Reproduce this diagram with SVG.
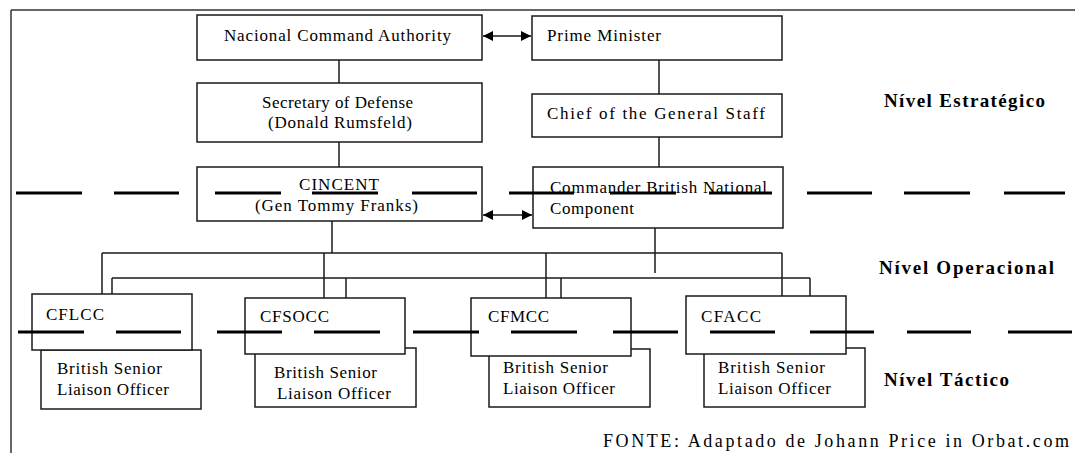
<svg xmlns="http://www.w3.org/2000/svg" width="1075" height="453" viewBox="0 0 1075 453">
<style>
.bg{fill:#ffffff}
.box{fill:#ffffff;stroke:#1a1a1a;stroke-width:1.5}
.ln{stroke:#1a1a1a;stroke-width:1.5;fill:none}
.frame{stroke:#333333;stroke-width:1.5;fill:none}
.dash{stroke:#000000;stroke-width:3;fill:none}
.t{font-family:"Liberation Serif","Times New Roman",serif;font-size:17px;fill:#000000}
.m{font-family:"Liberation Serif","Times New Roman",serif;font-size:17px;fill:#000000}
.b{font-family:"Liberation Serif","Times New Roman",serif;font-size:19px;font-weight:bold;fill:#000000}
.f{font-family:"Liberation Serif","Times New Roman",serif;font-size:18px;fill:#000000}
</style>
<defs>
<marker id="ah" viewBox="0 0 10 10" refX="10" refY="5" markerWidth="11" markerHeight="10" markerUnits="userSpaceOnUse" orient="auto-start-reverse">
<path d="M0,0 L10,5 L0,10 Z" fill="#000000"/>
</marker>
</defs>
<rect class="bg" x="0" y="0" width="1075" height="453"/>
<g id="frame">
<line class="frame" x1="11" y1="10" x2="1075" y2="10"/>
<line class="frame" x1="11" y1="10" x2="11" y2="453"/>
</g>
<g id="connectors">
<line class="ln" x1="339" y1="60" x2="339" y2="83"/>
<line class="ln" x1="339" y1="142" x2="339" y2="167"/>
<line class="ln" x1="659" y1="60" x2="659" y2="94"/>
<line class="ln" x1="659" y1="137" x2="659" y2="167"/>
<line class="ln" x1="483" y1="36" x2="531" y2="36" marker-start="url(#ah)" marker-end="url(#ah)"/>
<line class="ln" x1="483" y1="215" x2="532" y2="215" marker-start="url(#ah)" marker-end="url(#ah)"/>
<line class="ln" x1="332" y1="221" x2="332" y2="253"/>
<line class="ln" x1="655" y1="228" x2="655" y2="273"/>
<line class="ln" x1="102" y1="253" x2="782" y2="253"/>
<line class="ln" x1="112" y1="278" x2="810" y2="278"/>
<line class="ln" x1="102" y1="253" x2="102" y2="294"/>
<line class="ln" x1="112" y1="278" x2="112" y2="294"/>
<line class="ln" x1="324" y1="253" x2="324" y2="298"/>
<line class="ln" x1="346" y1="278" x2="346" y2="298"/>
<line class="ln" x1="546" y1="253" x2="546" y2="298"/>
<line class="ln" x1="561" y1="278" x2="561" y2="298"/>
<line class="ln" x1="782" y1="253" x2="782" y2="296"/>
<line class="ln" x1="810" y1="278" x2="810" y2="296"/>
</g>
<g id="nca"><rect class="box" x="197" y="15" width="285" height="45"/><text class="t" x="224" y="41" textLength="227">Nacional Command Authority</text></g>
<g id="pm"><rect class="box" x="532" y="16" width="250" height="44"/><text class="t" x="547" y="41" textLength="114">Prime Minister</text></g>
<g id="secdef"><rect class="box" x="197" y="83" width="285" height="59"/><text class="t" x="262" y="108" textLength="151">Secretary of Defense</text><text class="t" x="268" y="128" textLength="144">(Donald Rumsfeld)</text></g>
<g id="chief"><rect class="box" x="532" y="94" width="250" height="43"/><text class="t" x="547" y="119" textLength="218">Chief of the General Staff</text></g>
<g id="cincent"><rect class="box" x="197" y="167" width="285" height="54"/><text class="t" x="299" y="190" textLength="80">CINCENT</text><text class="t" x="255" y="211" textLength="163">(Gen Tommy Franks)</text></g>
<g id="cbnc"><rect class="box" x="533" y="167" width="250" height="61"/><text class="t" x="550" y="193" textLength="217">Commander British National</text><text class="t" x="550" y="214" textLength="84">Component</text></g>
<g id="bslo1"><rect class="box" x="41" y="350" width="160" height="59"/><text class="t" x="57" y="374" textLength="105">British Senior</text><text class="t" x="57" y="395" textLength="112">Liaison Officer</text></g>
<g id="bslo2"><rect class="box" x="255" y="348" width="161" height="59"/><text class="t" x="274" y="378" textLength="103">British Senior</text><text class="t" x="277" y="399" textLength="114">Liaison Officer</text></g>
<g id="bslo3"><rect class="box" x="489" y="349" width="161" height="58"/><text class="t" x="503" y="373" textLength="105">British Senior</text><text class="t" x="503" y="394" textLength="112">Liaison Officer</text></g>
<g id="bslo4"><rect class="box" x="704" y="348" width="161" height="59"/><text class="t" x="718" y="373" textLength="107">British Senior</text><text class="t" x="718" y="394" textLength="113">Liaison Officer</text></g>
<g id="cflcc"><rect class="box" x="32" y="294" width="160" height="56"/><text class="m" x="46" y="320" textLength="58">CFLCC</text></g>
<g id="cfsocc"><rect class="box" x="245" y="298" width="160" height="56"/><text class="m" x="260" y="322" textLength="69">CFSOCC</text></g>
<g id="cfmcc"><rect class="box" x="471" y="298" width="160" height="58"/><text class="m" x="488" y="322" textLength="61">CFMCC</text></g>
<g id="cfacc"><rect class="box" x="686" y="296" width="160" height="58"/><text class="m" x="701" y="322" textLength="60">CFACC</text></g>
<g id="levels">
<path class="dash" d="M16,193H82M114,193H179M215,193H281M312,193H378M412,193H477M509,193H574M610,193H676M709,193H772M807,193H872M904,193H970M1004,193H1065"/>
<path class="dash" d="M18,332H84M116,332H181M217,332H282M314,332H380M413,332H479M511,332H577M613,332H678M710,332H775M810,332H874M907,332H971M1008,332H1072"/>
<text class="b" x="884" y="107" textLength="161">Nível Estratégico</text>
<text class="b" x="879" y="274" textLength="175">Nível Operacional</text>
<text class="b" x="884" y="386" textLength="125">Nível Táctico</text>
</g>
<text class="f" x="603" y="447" textLength="466">FONTE: Adaptado de Johann Price in Orbat.com</text>
</svg>
